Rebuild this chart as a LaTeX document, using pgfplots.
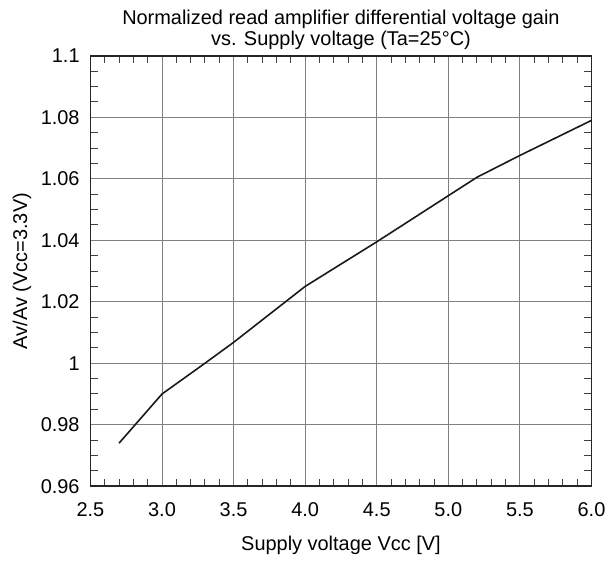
\documentclass[border=0pt]{standalone}
\usepackage{fontspec}
\setmainfont{Liberation Sans}
\usepackage{pgfplots}
\pgfplotsset{compat=1.18}

\begin{document}
\fontsize{20bp}{24bp}\selectfont
\begin{tikzpicture}
\begin{axis}[
    name=ax,
    at={(0,0)}, anchor=south west,
    scale only axis,
    width=502.6bp, height=431.7bp,
    xmin=2.5, xmax=6.0,
    ymin=0.96, ymax=1.1,
    xtick={2.5,3.0,...,6.0},
    ytick={0.96,0.98,...,1.1},
    minor x tick num=4,
    minor y tick num=3,
    tick align=inside,
    major tick length=0pt,
    minor tick length=7.5bp,
    every minor tick/.style={line width=1bp, black!75},
    grid=major,
    grid style={line width=1bp, black!50},
    axis line style={line width=1.6bp, black!85},
    /pgf/number format/assume math mode=true,
    xticklabel style={/pgf/number format/fixed zerofill, /pgf/number format/precision=1, yshift=-10bp},
    yticklabel style={/pgf/number format/fixed, /pgf/number format/precision=2, xshift=-4bp},
    tick label style={font=\fontsize{20bp}{24bp}\selectfont},
    xlabel={Supply voltage Vcc [V]},
    ylabel={Av/Av (Vcc=3.3V)},
    xlabel style={at={(rel axis cs:0.5,0)}, anchor=center, yshift=-59.3bp},
    ylabel style={at={(rel axis cs:0,0.5)}, anchor=center, yshift=68.7bp},
    label style={font=\fontsize{20bp}{24bp}\selectfont},
]
\addplot[line width=1.6bp, black!90] coordinates {
    (2.7,0.974)
    (3.0,0.990)
    (3.3,1.000)
    (3.5,1.0068)
    (4.0,1.025)
    (4.5,1.0395)
    (5.0,1.0545)
    (5.2,1.0605)
    (5.5,1.0676)
    (6.0,1.079)
};
\end{axis}
\node[anchor=base] at ([yshift=10bp]ax.north) {vs. Supply voltage (Ta=25°C)};
\node[anchor=base] at ([yshift=31.5bp]ax.north) {Normalized read amplifier differential voltage gain};
\path[use as bounding box] (-90.7bp,-77.3bp) rectangle (521.3bp,487.7bp);
\end{tikzpicture}
\end{document}
